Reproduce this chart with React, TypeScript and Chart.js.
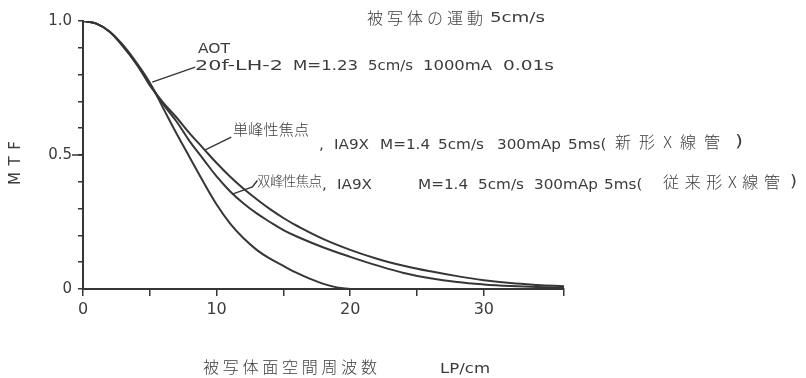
import React, { useEffect, useRef } from "react";
import { Chart, registerables } from "chart.js";

Chart.register(...registerables);

// ---- data ----
const freqAOT = [0, 1, 2, 3, 4, 5, 6, 7, 8, 9, 10, 11, 12, 13, 14, 15, 16, 17, 18, 19, 20];
const mtfAOT = [1.0, 0.99, 0.96, 0.91, 0.845, 0.77, 0.675, 0.58, 0.49, 0.4, 0.315, 0.245, 0.19, 0.146, 0.113, 0.086, 0.06, 0.038, 0.019, 0.006, 0];

const freqIA9X = [0, 1, 2, 3, 4, 5, 6, 7, 8, 9, 10, 11, 12, 13, 14, 15, 16, 18, 20, 22, 24, 26, 28, 30, 32, 34, 36];
const mtfSingle = [1.0, 0.99, 0.96, 0.905, 0.84, 0.76, 0.695, 0.64, 0.58, 0.525, 0.47, 0.42, 0.375, 0.335, 0.298, 0.265, 0.236, 0.186, 0.146, 0.113, 0.087, 0.066, 0.048, 0.033, 0.022, 0.015, 0.01];
const mtfDouble = [1.0, 0.99, 0.96, 0.905, 0.84, 0.765, 0.69, 0.625, 0.55, 0.485, 0.42, 0.365, 0.32, 0.282, 0.25, 0.22, 0.196, 0.155, 0.12, 0.088, 0.06, 0.04, 0.026, 0.017, 0.011, 0.007, 0.005];

const xTicks = [0, 5, 10, 15, 20, 25, 30, 36];
const xTickLabels: Record<number, string> = { 0: "0", 10: "10", 20: "20", 30: "30" };
const yTicks = [0, 0.1, 0.2, 0.3, 0.4, 0.5, 0.6, 0.7, 0.8, 0.9, 1.0];
const yTickLabels: Record<string, string> = { "0": "0", "0.5": "0.5", "1": "1.0" };

// annotation texts
const titleText = "被写体の運動";
const titleSpeed = "5cm/s";
const aotName = "AOT";
const aotDesc = ["20f-LH-2", "M=1.23", "5cm/s", "1000mA", "0.01s"];
const singleName = "単峰性焦点";
const singleDesc = [",", "IA9X", "M=1.4", "5cm/s", "300mAp", "5ms("];
const singleTube = "新形X線管";
const doubleName = "双峰性焦点";
const doubleDesc = [",", "IA9X", "M=1.4", "5cm/s", "300mAp", "5ms("];
const doubleTube = "従来形X線管";
const closeParen = ")";
const xTitle = "被写体面空間周波数";
const xUnit = "LP/cm";
const yTitle = "MTF";

// leader lines in data units (attach to curves)
const leaderAOT = [[5.18, 0.772], [8.4, 0.828]];
const leaderSingle = [[9.15, 0.519], [11.1, 0.567]];
const leaderDouble = [[11.18, 0.354], [12.68, 0.381], [13.05, 0.405]];

const INK = "#363636";
const TXT = "#3c3c3c";
const LATIN = "'DejaVu Sans', sans-serif";
const CJK = "'Noto Sans CJK JP', sans-serif";

// pixel layout of the text segments
const aotDescPos = [[195, 283], [293, 358], [368, 413], [423, 492], [503, 554]];
const singleDescX = [319, 334, 380, 438, 497, 568];
const doubleDescX = [322, 337, 418, 478, 534, 604];

function fitScale(ctx: CanvasRenderingContext2D, text: string, x: number, y: number, width: number, font: string, color: string) {
  ctx.save();
  ctx.font = font;
  ctx.fillStyle = color;
  ctx.textBaseline = "middle";
  ctx.textAlign = "left";
  const w = ctx.measureText(text).width;
  ctx.translate(x, y);
  ctx.scale(width / w, 1);
  ctx.fillText(text, 0, 0);
  ctx.restore();
}

function drawAt(ctx: CanvasRenderingContext2D, text: string, x: number, y: number, font: string, color: string, sx = 1) {
  ctx.save();
  ctx.font = font;
  ctx.fillStyle = color;
  ctx.textBaseline = "middle";
  ctx.textAlign = "left";
  ctx.translate(x, y);
  ctx.scale(sx, 1);
  ctx.fillText(text, 0, 0);
  ctx.restore();
}

function fitSpace(ctx: CanvasRenderingContext2D, text: string, x: number, y: number, width: number, font: string, color: string) {
  ctx.save();
  ctx.font = font;
  ctx.fillStyle = color;
  ctx.textBaseline = "middle";
  ctx.textAlign = "left";
  (ctx as any).letterSpacing = "0px";
  const w = ctx.measureText(text).width;
  const n = Array.from(text).length;
  const ls = n > 1 ? (width - w) / (n - 1) : 0;
  (ctx as any).letterSpacing = ls + "px";
  ctx.fillText(text, x, y);
  ctx.restore();
}

const annotationPlugin = {
  id: "annotations",
  afterDraw(chart: any) {
    const ctx: CanvasRenderingContext2D = chart.ctx;
    const xs = chart.scales.x;
    const ys = chart.scales.y;

    ctx.save();
    ctx.strokeStyle = INK;
    ctx.lineWidth = 1.5;
    const y05 = ys.getPixelForValue(0.5);
    ctx.beginPath();
    ctx.moveTo(xs.left - 11, y05);
    ctx.lineTo(xs.left, y05);
    ctx.stroke();

    const drawLeader = (pts: number[][]) => {
      ctx.beginPath();
      pts.forEach((p, i) => {
        const px = xs.getPixelForValue(p[0]);
        const py = ys.getPixelForValue(p[1]);
        if (i === 0) ctx.moveTo(px, py);
        else ctx.lineTo(px, py);
      });
      ctx.stroke();
    };
    ctx.lineWidth = 1.4;
    drawLeader(leaderAOT);
    drawLeader(leaderSingle);
    drawLeader(leaderDouble);
    ctx.restore();

    const cjk = (s: number) => `300 ${s}px ${CJK}`;
    const lat = (s: number) => `${s}px ${LATIN}`;

    fitSpace(ctx, titleText, 367, 18, 116, cjk(16), TXT);
    fitScale(ctx, titleSpeed, 490, 18, 55, lat(14), TXT);

    fitScale(ctx, aotName, 198, 49, 32, lat(14), TXT);
    aotDesc.forEach((t, i) => fitScale(ctx, t, aotDescPos[i][0], 66, aotDescPos[i][1] - aotDescPos[i][0], lat(14), TXT));

    fitSpace(ctx, singleName, 233, 129, 76, cjk(15), TXT);
    singleDesc.forEach((t, i) => drawAt(ctx, t, singleDescX[i], 145, lat(14.5), TXT, 1.05));
    fitSpace(ctx, singleTube, 615, 142, 105, cjk(16), TXT);
    fitScale(ctx, closeParen, 735, 142, 8, lat(15), TXT);

    fitSpace(ctx, doubleName, 257, 181, 65, cjk(13.5), TXT);
    doubleDesc.forEach((t, i) => drawAt(ctx, t, doubleDescX[i], 185, lat(14.5), TXT, 1.05));
    fitSpace(ctx, doubleTube, 663, 182, 117, cjk(16), TXT);
    fitScale(ctx, closeParen, 790, 182, 7, lat(15), TXT);

    fitSpace(ctx, xTitle, 203, 367, 174, cjk(16), TXT);
    fitScale(ctx, xUnit, 440, 369, 50, lat(14), TXT);

    ctx.save();
    ctx.translate(16, 163);
    ctx.rotate(-Math.PI / 2);
    ctx.font = lat(15);
    ctx.fillStyle = TXT;
    ctx.textBaseline = "middle";
    ctx.textAlign = "left";
    (ctx as any).letterSpacing = "0px";
    const w = ctx.measureText(yTitle).width;
    (ctx as any).letterSpacing = (44 - w) / 2 + "px";
    ctx.fillText(yTitle, -22, 0);
    ctx.restore();
  },
};

const whiteBg = {
  id: "whiteBg",
  beforeDraw(chart: any) {
    const ctx = chart.ctx;
    ctx.save();
    ctx.fillStyle = "#ffffff";
    ctx.fillRect(0, 0, chart.width, chart.height);
    ctx.restore();
  },
};

export default function App() {
  const ref = useRef<HTMLCanvasElement | null>(null);
  useEffect(() => {
    document.body.style.margin = "0";
    const canvas = ref.current;
    if (!canvas) return;
    const lineStyle = {
      borderColor: INK,
      borderWidth: 2,
      pointRadius: 0,
      fill: false,
      tension: 0.4,
    };
    const chart = new Chart(canvas, {
      type: "line",
      data: {
        datasets: [
          { label: "AOT", data: freqAOT.map((x, i) => ({ x, y: mtfAOT[i] })), ...lineStyle },
          { label: "単峰性焦点", data: freqIA9X.map((x, i) => ({ x, y: mtfSingle[i] })), ...lineStyle },
          { label: "双峰性焦点", data: freqIA9X.map((x, i) => ({ x, y: mtfDouble[i] })), ...lineStyle },
        ],
      },
      options: {
        responsive: false,
        animation: false,
        layout: { padding: { left: 0, top: 21, right: 242, bottom: 0 } },
        plugins: { legend: { display: false }, tooltip: { enabled: false } },
        scales: {
          x: {
            type: "linear",
            min: 0,
            max: 36,
            afterBuildTicks: (s: any) => {
              s.ticks = xTicks.map((v) => ({ value: v }));
            },
            afterFit: (s: any) => {
              s.height = 89;
            },
            ticks: {
              autoSkip: false,
              maxRotation: 0,
              padding: 4,
              color: TXT,
              font: { family: LATIN, size: 16 },
              callback: (v: any) => xTickLabels[v as number] ?? "",
            },
            grid: { drawOnChartArea: false, drawTicks: true, tickLength: 7, color: INK, lineWidth: 1.5 },
            border: { display: true, color: INK, width: 2 },
          },
          y: {
            type: "linear",
            min: 0,
            max: 1,
            afterBuildTicks: (s: any) => {
              s.ticks = yTicks.map((v) => ({ value: v }));
            },
            afterFit: (s: any) => {
              s.width = 83;
            },
            ticks: {
              autoSkip: false,
              padding: 6,
              color: TXT,
              font: { family: LATIN, size: 15 },
              callback: (v: any) => yTickLabels[String(Math.round((v as number) * 10) / 10)] ?? "",
            },
            grid: { drawOnChartArea: false, drawTicks: true, tickLength: 5, color: INK, lineWidth: 1.5 },
            border: { display: true, color: INK, width: 2 },
          },
        },
      },
      plugins: [whiteBg, annotationPlugin],
    });
    return () => chart.destroy();
  }, []);
  return (
    <div style={{ position: "absolute", left: 0, top: 0, width: 806, height: 378 }}>
      <canvas ref={ref} width={806} height={378} style={{ display: "block" }} />
    </div>
  );
}
